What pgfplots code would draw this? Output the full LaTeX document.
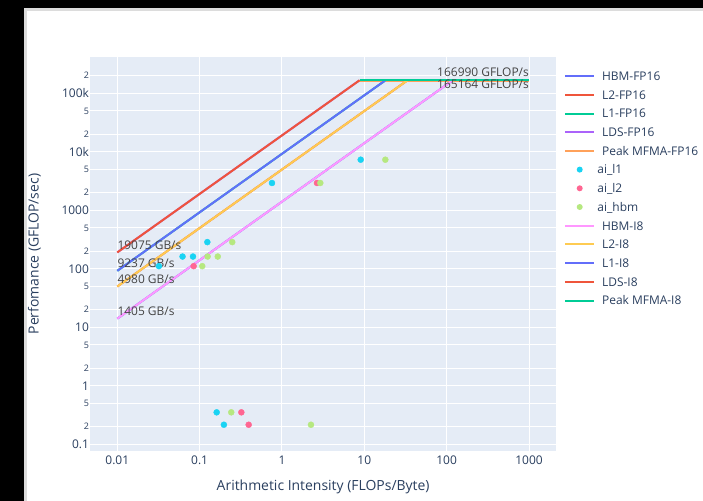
\documentclass[border=0pt]{standalone}
\usepackage{pgfplots}
\pgfplotsset{compat=1.18}
\usepackage{fontspec}
\setmainfont{Open Sans}
\definecolor{plotbg}{HTML}{E5ECF6}
\definecolor{fontc}{HTML}{2A3F5F}
\definecolor{annc}{HTML}{444444}
\definecolor{cA}{HTML}{636EFA}
\definecolor{cB}{HTML}{EF553B}
\definecolor{cC}{HTML}{00CC96}
\definecolor{cD}{HTML}{AB63FA}
\definecolor{cE}{HTML}{FFA15A}
\definecolor{cF}{HTML}{19D3F3}
\definecolor{cG}{HTML}{FF6692}
\definecolor{cH}{HTML}{B6E880}
\definecolor{cI}{HTML}{FF97FF}
\definecolor{cJ}{HTML}{FECB52}
\definecolor{frameg}{HTML}{DCDCDC}
\begin{document}
\begin{tikzpicture}
\useasboundingbox (0,0) rectangle (703bp,501bp);
\fill[black] (0,0) rectangle (703bp,501bp);
\fill[frameg] (24bp,0) rectangle (703bp,493bp);
\fill[white] (26.5bp,0) rectangle (703bp,490bp);
\begin{axis}[
  at={(90.3bp,49.7bp)}, anchor=south west,
  scale only axis, width=465.7bp, height=394.5bp,
  xmode=log, ymode=log,
  xmin=0.004698, xmax=2128,
  ymin=0.07594, ymax=420700,
  axis background/.style={fill=plotbg},
  axis line style={draw=none},
  major tick length=0pt,
  xminorticks=false, yminorticks=false,
  grid=major,
  grid style={white, line width=1bp},
  /pgf/number format/assume math mode=true,
  xtick={0.01,0.1,1,10,100,1000},
  xticklabels={0.01,0.1,1,10,100,1000},
  ytick={0.1,1,10,100,1000,10000,100000},
  yticklabels={0.1,1,10,100,1000,10k,100k},
  extra y ticks={0.2,0.5,2,5,20,50,200,500,2000,5000,20000,50000,200000},
  extra y tick labels={2,5,2,5,2,5,2,5,2,5,2,5,2},
  extra y tick style={grid=major, yticklabel style={font=\fontsize{9}{9}\selectfont, text height=6.4bp}},
  xticklabel style={font=\fontsize{12}{12}\selectfont, text=fontc, anchor=base, inner sep=0pt, yshift=-13.5bp},
  yticklabel style={font=\fontsize{12}{12}\selectfont, text=fontc, anchor=east, inner sep=0pt, text height=8.6bp, text depth=0pt, xshift=-1.2bp},
  xlabel={Arithmetic Intensity (FLOPs/Byte)},
  ylabel={Perfomance (GFLOP/sec)},
  xlabel style={font=\fontsize{14}{14}\selectfont, text=fontc, at={(axis description cs:0.5,-0.0913)}, anchor=center},
  ylabel style={font=\fontsize{14}{14}\selectfont, text=fontc, at={(axis description cs:-0.1202,0.5)}, anchor=center},
  legend cell align=left,
  legend style={at={(axis description cs:1.0172,0.9645)}, anchor=north west, draw=none, fill=white,
    inner sep=0pt, outer sep=0pt, row sep=8.1bp, column sep=2.4bp,
    font=\fontsize{12}{12}\selectfont, text=fontc,
    nodes={inner sep=0pt, text height=9.6bp, text depth=1bp}},
  legend image code/.code={\draw[#1, line width=2bp] (0bp,0bp) -- (29bp,0bp);},
]
% FP16 rooflines
\addplot[cA, line width=2bp] coordinates {(0.01,14.05) (117.555,165164)};
\addlegendentry{HBM-FP16}
\addplot[cB, line width=2bp] coordinates {(0.01,49.8) (33.165,165164)};
\addlegendentry{L2-FP16}
\addplot[cC, line width=2bp] coordinates {(0.01,92.37) (17.8807,165164)};
\addlegendentry{L1-FP16}
\addplot[cD, line width=2bp] coordinates {(0.01,190.75) (8.6586,165164)};
\addlegendentry{LDS-FP16}
\addplot[cE, line width=2bp] coordinates {(8.6586,165164) (1000,165164)};
\addlegendentry{Peak MFMA-FP16}
% measured points
\addplot[cF, only marks, mark=*, mark size=3bp,
  legend image code/.code={\path[draw=none] (0bp,0bp) -- (29bp,0bp); \fill[cF, draw=none] (14.7bp,0bp) circle (3bp);}]
  coordinates {(0.756,2930) (9.04,7330) (0.124,286) (0.062,162) (0.083,162) (0.032,111) (0.161,0.352) (0.197,0.216)};
\addlegendentry[xshift=-4.7bp]{ai\_l1}
\addplot[cG, only marks, mark=*, mark size=3bp,
  legend image code/.code={\path[draw=none] (0bp,0bp) -- (29bp,0bp); \fill[cG, draw=none] (14.7bp,0bp) circle (3bp);}]
  coordinates {(2.66,2930) (0.0846,111) (0.321,0.352) (0.394,0.216)};
\addlegendentry[xshift=-4.7bp]{ai\_l2}
\addplot[cH, only marks, mark=*, mark size=3bp,
  legend image code/.code={\path[draw=none] (0bp,0bp) -- (29bp,0bp); \fill[cH, draw=none] (14.7bp,0bp) circle (3bp);}]
  coordinates {(2.92,2930) (18.0,7330) (0.249,286) (0.125,162) (0.166,162) (0.1076,111) (0.242,0.352) (2.25,0.216)};
\addlegendentry[xshift=-4.7bp]{ai\_hbm}
% I8 rooflines
\addplot[cI, line width=2bp] coordinates {(0.01,14.05) (118.854,166990)};
\addlegendentry{HBM-I8}
\addplot[cJ, line width=2bp] coordinates {(0.01,49.8) (33.532,166990)};
\addlegendentry{L2-I8}
\addplot[cA, line width=2bp] coordinates {(0.01,92.37) (18.0784,166990)};
\addlegendentry{L1-I8}
\addplot[cB, line width=2bp] coordinates {(0.01,190.75) (8.7544,166990)};
\addlegendentry{LDS-I8}
\addplot[cC, line width=2bp] coordinates {(8.7544,166990) (1000,166990)};
\addlegendentry{Peak MFMA-I8}
% annotations
\begin{scope}[every node/.style={font=\fontsize{12}{12}\selectfont, text=annc, inner sep=0pt}]
\node[anchor=base west, yshift=3bp] at (axis cs:0.01,190.75) {19075 GB/s};
\node[anchor=base west, yshift=3bp] at (axis cs:0.01,92.37) {9237 GB/s};
\node[anchor=base west, yshift=3bp] at (axis cs:0.01,49.8) {4980 GB/s};
\node[anchor=base west, yshift=3bp] at (axis cs:0.01,14.05) {1405 GB/s};
\node[anchor=base east, yshift=4bp] at (axis cs:1000,166990) {166990 GFLOP/s};
\node[anchor=base east, yshift=-8.4bp] at (axis cs:1000,165164) {165164 GFLOP/s};
\end{scope}
\end{axis}
\end{tikzpicture}
\end{document}
